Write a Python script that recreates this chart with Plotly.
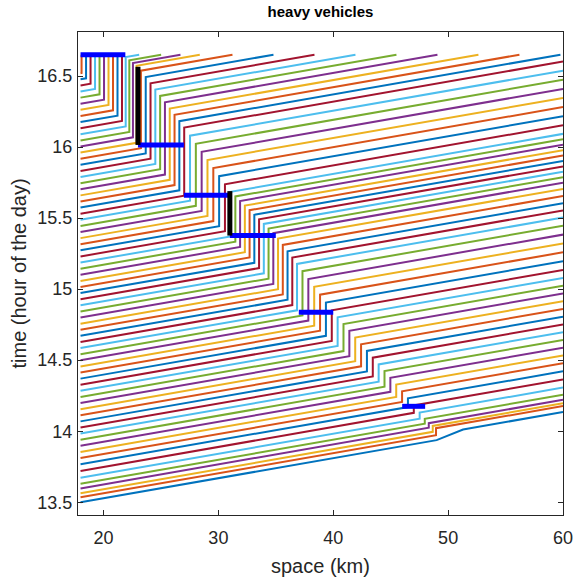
import plotly.graph_objects as go

# ---------------- data ----------------
x_start = 18.0          # km, entry point of all trajectories
x_end = 60.0            # km
t_end = 16.65           # end of the simulated period (h)
pace = 0.0141           # h per km in free flow (~71 km/h)

# time each heavy vehicle passes x = 18 km
entry_times = [13.50, 13.535, 13.563, 13.597, 13.63, 13.672, 13.72, 13.768, 13.811, 13.854,
               13.897, 13.94, 13.983, 14.026, 14.069, 14.112, 14.155, 14.198, 14.241, 14.284,
               14.327, 14.37, 14.413, 14.456, 14.499, 14.542, 14.585, 14.628, 14.671, 14.714,
               14.757, 14.80, 14.843, 14.886, 14.929, 14.972, 15.015, 15.058, 15.101, 15.144,
               15.187, 15.23, 15.273, 15.316, 15.359, 15.402, 15.445, 15.488, 15.531, 15.574,
               15.617, 15.66, 15.703, 15.746, 15.789, 15.832, 15.875, 15.918, 15.961, 16.004,
               16.047, 16.09, 16.133, 16.176, 16.219, 16.262, 16.305, 16.348, 16.391, 16.434,
               16.477, 16.52]

# upstream front of the stop-and-go jam (where vehicles stop): position (km) / time (h)
jam_tail_x = [18.0, 21.65, 23.0, 27.0, 31.0, 37.0, 46.5, 48.25, 49.2]
jam_tail_t = [16.53, 16.18, 16.015, 15.66, 15.377, 14.837, 14.17, 14.03, 13.95]
# downstream front of the jam (where vehicles restart)
jam_head_x = [18.0, 22.1, 23.0, 27.0, 31.0, 35.0, 40.0, 46.0, 48.25, 49.5]
jam_head_t = [16.95, 16.62, 16.565, 16.14, 15.69, 15.377, 14.837, 14.28, 14.06, 13.99]

# first vehicle only slows down between these positions
slow_vehicle = 0
slow_from, slow_to, slow_time = 49.0, 51.3, 0.075

# thick markers: blue = horizontal bars (x0, x1, t), black = vertical bars (x, t0, t1)
blue_bars = [(18.0, 21.9, 16.65), (23.0, 27.0, 16.015), (27.0, 31.0, 15.66),
             (31.0, 35.0, 15.377), (37.0, 40.0, 14.837), (46.0, 48.0, 14.175)]
black_bars = [(23.0, 16.015, 16.565), (31.0, 15.377, 15.69)]

colors = ['#0072BD', '#D95319', '#EDB120', '#7E2F8E', '#77AC30', '#4DBEEE', '#A2142F']


# ---------------- helpers ----------------
def interp(x, xs, ts):
    pts = sorted(zip(xs, ts))
    if x <= pts[0][0]:
        (x0, t0), (x1, t1) = pts[0], pts[1]
    elif x >= pts[-1][0]:
        (x0, t0), (x1, t1) = pts[-2], pts[-1]
    else:
        for (x0, t0), (x1, t1) in zip(pts[:-1], pts[1:]):
            if x0 <= x <= x1:
                break
    return t0 + (t1 - t0) * (x - x0) / (x1 - x0)


def clip_move(xs, ts, x0, t0, x1):
    """append free-flow motion from (x0,t0) to x1, cut at t_end"""
    t1 = t0 + (x1 - x0) * pace
    if t1 > t_end:
        xs.append(x0 + (t_end - t0) / pace); ts.append(t_end)
        return False
    xs.append(x1); ts.append(t1)
    return True


def trajectory(i, t0):
    xs, ts = [x_start], [t0]
    lo, hi = x_start, max(jam_tail_x)
    f = lambda x: t0 + (x - x_start) * pace - interp(x, jam_tail_x, jam_tail_t)
    if i == slow_vehicle or f(hi) < 0:
        if i == slow_vehicle:
            if not clip_move(xs, ts, x_start, t0, slow_from):
                return xs, ts
            ta = ts[-1] + slow_time
            xs.append(slow_to); ts.append(ta)
            clip_move(xs, ts, slow_to, ta, x_end)
        else:
            clip_move(xs, ts, x_start, t0, x_end)
        return xs, ts
    if f(lo) >= 0:
        s = lo
    else:
        for _ in range(60):
            mid = 0.5 * (lo + hi)
            if f(mid) < 0:
                lo = mid
            else:
                hi = mid
        s = 0.5 * (lo + hi)
    if not clip_move(xs, ts, x_start, t0, s):
        return xs, ts
    ts_stop = ts[-1]
    t_leave = max(interp(s, jam_head_x, jam_head_t), ts_stop)
    if t_leave >= t_end:
        xs.append(s); ts.append(t_end)
        return xs, ts
    xs.append(s); ts.append(t_leave)
    clip_move(xs, ts, s, t_leave, x_end)
    return xs, ts


fig = go.Figure()
for i, t0 in enumerate(entry_times):
    xs, ts = trajectory(i, t0)
    fig.add_trace(go.Scatter(x=xs, y=ts, mode='lines',
                             line=dict(color=colors[i % 7], width=2),
                             showlegend=False, hoverinfo='skip'))

for (a, b, t) in blue_bars:
    fig.add_trace(go.Scatter(x=[a, b], y=[t, t], mode='lines',
                             line=dict(color='#0000FF', width=5),
                             showlegend=False, hoverinfo='skip'))
for (x, a, b) in black_bars:
    fig.add_trace(go.Scatter(x=[x, x], y=[a, b], mode='lines',
                             line=dict(color='#000000', width=5),
                             showlegend=False, hoverinfo='skip'))

font_family = 'Liberation Sans, Arial, Helvetica, sans-serif'
axis_common = dict(showline=True, linecolor='#262626', linewidth=1, mirror='ticks',
                   ticks='inside', ticklen=5, tickcolor='#262626', showgrid=False,
                   zeroline=False, automargin=False,
                   tickfont=dict(family=font_family, size=18, color='#262626'))

W, H = 576, 578

fig.update_layout(
    width=W, height=H,
    margin=dict(l=78, r=W - 563, t=32, b=H - 515, pad=0),
    paper_bgcolor='white', plot_bgcolor='white',
    title=dict(text='<b>heavy vehicles</b>', x=320.5 / W, xanchor='center',
               y=1 - 12 / H, yanchor='middle',
               font=dict(family=font_family, size=15, color='black')),
    xaxis=dict(range=[17.78, 60], tickvals=[20, 30, 40, 50, 60], ticklabelstandoff=6,
               **axis_common),
    yaxis=dict(range=[13.41, 16.81], tickvals=[13.5, 14, 14.5, 15, 15.5, 16, 16.5],
               ticktext=['13.5', '14', '14.5', '15', '15.5', '16', '16.5'], ticklabelstandoff=1,
               **axis_common),
    annotations=[
        dict(text='space (km)', xref='paper', yref='paper', x=0.5, y=-(566 - 515) / 483,
             xanchor='center', yanchor='middle', showarrow=False,
             font=dict(family=font_family, size=20, color='#262626')),
        dict(text='time (hour of the day)', xref='paper', yref='paper', x=-(78 - 18) / 485, y=0.5,
             xanchor='center', yanchor='middle', textangle=-90, showarrow=False,
             font=dict(family=font_family, size=20, color='#262626')),
    ],
)

# remove the page's default 8 px body margin so the figure sits at the window corner
fig.write_html('out.html', config={'displayModeBar': False},
               post_script="document.body.style.margin='0px';")
